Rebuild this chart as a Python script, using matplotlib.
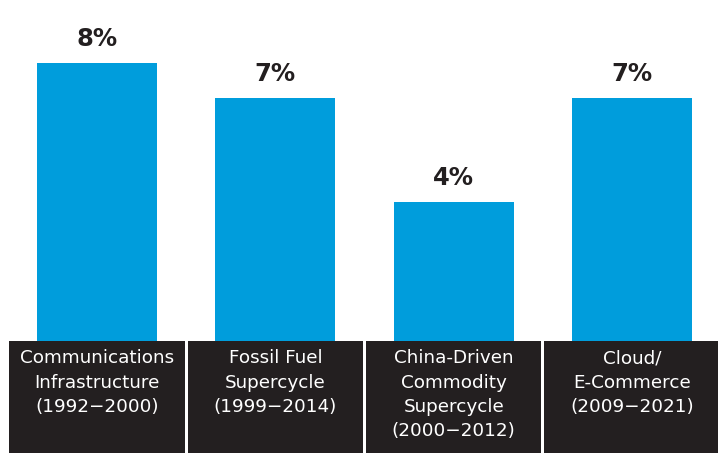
import numpy as np
import matplotlib.pyplot as plt

categories = ["Communications\nInfrastructure\n(1992\u22122000)",
              "Fossil Fuel\nSupercycle\n(1999\u22122014)",
              "China-Driven\nCommodity\nSupercycle\n(2000\u22122012)",
              "Cloud/\nE-Commerce\n(2009\u22122021)"]
values = [8, 7, 4, 7]
value_labels = ["8%", "7%", "4%", "7%"]

blue = "#009ddc"
dark = "#231f20"

fig = plt.figure(figsize=(7.18, 4.53), dpi=100)
x = np.arange(len(values))
xlim = (-0.544, 3.482)

# bars
ax = fig.add_axes([0, 0.247, 1, 0.753])
ax.bar(x, values, width=0.673, color=blue)
ax.set_xlim(*xlim)
ax.set_ylim(0, 9.81)
ax.axis("off")
for xi, v, lab in zip(x, values, value_labels):
    ax.annotate(lab, (xi, v), xytext=(0, 12.2), textcoords="offset points",
                ha="center", va="baseline", fontsize=17.5, fontweight="bold",
                color=dark)

# category boxes
bx = fig.add_axes([0, 0, 1, 0.247])
bx.bar(x, [1] * len(x), width=0.982, color=dark)
bx.set_xlim(*xlim)
bx.set_ylim(0, 1)
bx.axis("off")
for xi, cat in zip(x, categories):
    bx.annotate(cat, (xi, 1), xytext=(0, -6), textcoords="offset points",
                ha="center", va="top", fontsize=13.2, color="white",
                linespacing=1.45)

fig.savefig("out.png", dpi=100)
